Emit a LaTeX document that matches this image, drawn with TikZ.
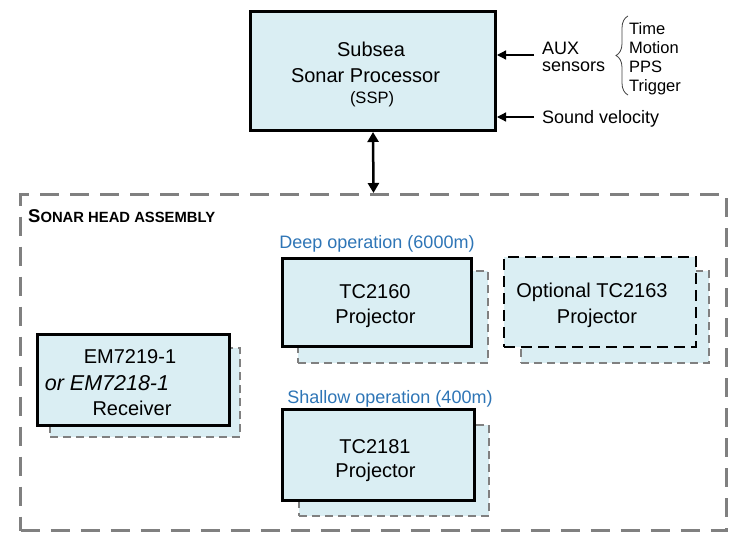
\documentclass[tikz,border=0pt]{standalone}
\usepackage{fontspec}
\setmainfont{Liberation Sans}
\usetikzlibrary{arrows.meta,decorations.pathreplacing}
\definecolor{boxfill}{HTML}{DAEEF3}
\definecolor{dgray}{HTML}{808080}
\definecolor{opblue}{HTML}{2E75B6}
\begin{document}
\begin{tikzpicture}[x=1pt,y=-1pt,
  mainbox/.style={draw=black,line width=3pt,fill=boxfill,inner sep=0pt},
  optbox/.style={draw=black,line width=2.2pt,dash pattern=on 11pt off 6pt,fill=boxfill,inner sep=0pt},
  shadowbox/.style={draw=dgray,line width=2pt,dash pattern=on 8pt off 5pt,fill=boxfill,inner sep=0pt},
  outerbox/.style={draw=dgray,line width=3pt,dash pattern=on 19pt off 11pt,inner sep=0pt},
  txt/.style={inner sep=0pt,anchor=base,font=\fontsize{20}{24}\selectfont},
  smalltxt/.style={inner sep=0pt,anchor=base west,font=\fontsize{18}{22}\selectfont},
  listtxt/.style={inner sep=0pt,anchor=base west,font=\fontsize{16.5}{20}\selectfont},
  optxt/.style={inner sep=0pt,anchor=base,text=opblue,font=\fontsize{18}{22}\selectfont},
  sensarrow/.style={line width=1.3pt,-{Triangle[length=9pt,width=9pt]}},
  linkarrow/.style={line width=2.5pt,{Triangle[length=10pt,width=11pt]}-{Triangle[length=10pt,width=11pt]}},
]
\useasboundingbox (0,0) rectangle (747,543);

% outer assembly
\node[outerbox,minimum width=706pt,minimum height=336pt] (outer) at (373.5,362.5) {};
\node[inner sep=0pt,anchor=base west,font=\bfseries] (shalbl) at (28,222)
  {{\fontsize{18.5}{20}\selectfont S}{\fontsize{14.8}{16}\selectfont ONAR HEAD ASSEMBLY}};

% SSP
\node[mainbox,minimum width=245pt,minimum height=119pt] (ssp) at (373,71) {};
\node[txt] (ssp1) at (371,57) {Subsea};
\node[txt] (ssp2) at (365.5,82) {Sonar Processor};
\node[txt,font=\fontsize{16.5}{20}\selectfont] (ssp3) at (372,103) {(SSP)};

% sensors
\coordinate (auxc) at (534,55);
\coordinate (svc) at (534,117);
\draw[sensarrow] (auxc) -- (ssp.east |- auxc);
\draw[sensarrow] (svc) -- (ssp.east |- svc);
\node[smalltxt] (aux1) at (542,55) {AUX};
\node[smalltxt] (aux2) at (542,72) {sensors};
\node[smalltxt] (svl) at (542,123) {Sound velocity};
\coordinate (brb) at (628,95);
\coordinate (brt) at (628,16);
\draw[decorate,decoration={brace,amplitude=12pt},line width=0.8pt,draw=black!75] (brb) -- (brt);
\node[listtxt] (l1) at (629,35) {Time};
\node[listtxt] (l2) at (629,54) {Motion};
\node[listtxt] (l3) at (629,73) {PPS};
\node[listtxt] (l4) at (629,92) {Trigger};

\draw[linkarrow] (ssp.south) -- (outer.north);

% TC2160
\node[optxt] (deep) at (377,248) {Deep operation (6000m)};
\node[shadowbox,minimum width=190pt,minimum height=92pt] (sh1) at (393,317) {};
\node[mainbox,minimum width=189pt,minimum height=88pt] (tc2160) at (377,302.5) {};
\node[txt] (tc2160a) at (375,298) {TC2160};
\node[txt] (tc2160b) at (375.5,323) {Projector};

% Optional TC2163
\node[shadowbox,minimum width=188pt,minimum height=92pt] (sh2) at (615,317) {};
\node[optbox,minimum width=192pt,minimum height=90pt] (tc2163) at (600,302) {};
\node[txt] (tc2163a) at (592,297) {Optional TC2163};
\node[txt] (tc2163b) at (597,323) {Projector};

% Receiver
\node[shadowbox,minimum width=190pt,minimum height=89pt] (sh3) at (145,392.5) {};
\node[mainbox,minimum width=192pt,minimum height=91pt] (rx) at (133.5,380) {};
\node[txt] (rxa) at (130,363) {EM7219-1};
\node[txt,font=\fontsize{21.5}{24}\selectfont\itshape] (rxb) at (107,390) {or EM7218-1};
\node[txt] (rxc) at (132,415) {Receiver};

% TC2181
\node[optxt] (shallow) at (390,403) {Shallow operation (400m)};
\node[shadowbox,minimum width=190pt,minimum height=91pt] (sh4) at (394,470.5) {};
\node[mainbox,minimum width=192pt,minimum height=91pt] (tc2181) at (378.5,455) {};
\node[txt] (tc2181a) at (375,453) {TC2181};
\node[txt] (tc2181b) at (375.5,477) {Projector};
\end{tikzpicture}
\end{document}
